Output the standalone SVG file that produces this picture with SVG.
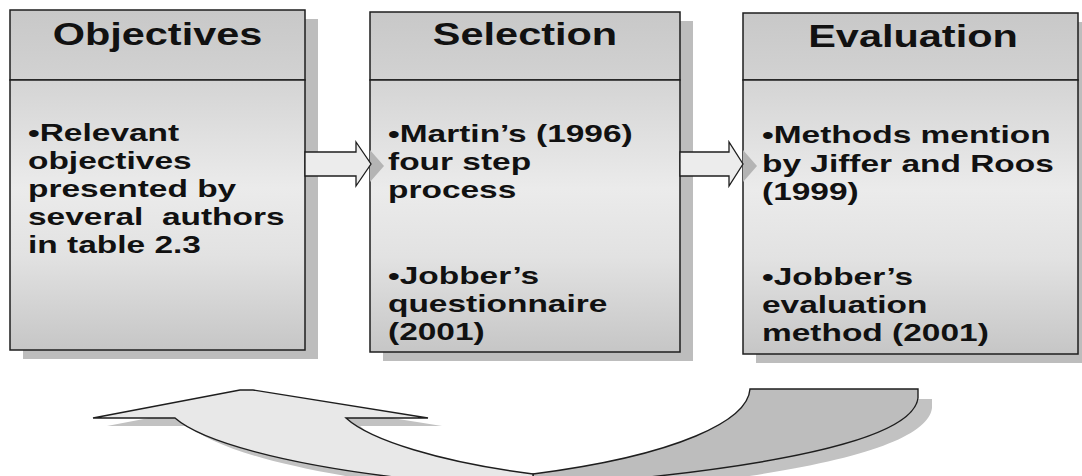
<svg xmlns="http://www.w3.org/2000/svg" width="1082" height="476" viewBox="0 0 1082 476">
<style>
.shadow{fill:#bdbdbd}
.hdr{fill:url(#hdrGrad);stroke:#1e1e1e;stroke-width:1.5}
.body{fill:url(#bodyGrad);stroke:#1e1e1e;stroke-width:1.5}
.ht{font-family:"Liberation Sans",Arial,sans-serif;font-weight:bold;font-size:30.5px;fill:#111;text-anchor:middle}
.bt{font-family:"Liberation Sans",Arial,sans-serif;font-weight:bold;font-size:23px;fill:#111}
.arrow{fill:#ececec;stroke:#1e1e1e;stroke-width:1.3;stroke-linejoin:miter}
.ashadow{fill:#b4b4b4}
.light{fill:#e8e8e8;stroke:#1e1e1e;stroke-width:1.4}
.dark{fill:#bdbdbd;stroke:#1e1e1e;stroke-width:1.4}
.cshadow{fill:#c2c2c2}
</style>
<defs>
<linearGradient id="hdrGrad" x1="0" y1="0" x2="0" y2="1">
<stop offset="0" stop-color="#c8c8c8"/>
<stop offset="1" stop-color="#d2d2d2"/>
</linearGradient>
<linearGradient id="bodyGrad" x1="0" y1="0" x2="0" y2="1">
<stop offset="0" stop-color="#d4d4d4"/>
<stop offset="0.4" stop-color="#ebebeb"/>
<stop offset="0.65" stop-color="#e2e2e2"/>
<stop offset="1" stop-color="#c6c6c6"/>
</linearGradient>
</defs>
<rect width="1082" height="476" fill="#ffffff"/>

<g id="cycle-arrow">
<path class="cshadow" transform="translate(14,10)" d="M 750 389 H 918 V 398 C 914 430 830 458 640 478 L 640 500 L 533 500 L 533 474 C 680 455 748 420 750 389 Z"/>
<path class="cshadow" transform="translate(14,8)" d="M 93 418 L 240 390 L 253 390 L 428 418 L 346 418 C 370 440 440 462 533 474 L 533 500 L 420 500 L 420 480 C 280 465 200 440 175 418 Z"/>
<path class="dark" d="M 750 389 H 918 V 398 C 914 430 830 458 640 478 L 640 500 L 533 500 L 533 474 C 680 455 748 420 750 389 Z"/>
<path class="light" d="M 93 418 L 240 390 L 253 390 L 428 418 L 346 418 C 370 440 440 462 533 474 L 533 500 L 420 500 L 420 480 C 280 465 200 440 175 418 Z"/>
</g>

<g id="node-objectives">
<rect class="shadow" x="23" y="19" width="295" height="340"/>
<rect class="hdr" x="10" y="10" width="295" height="70"/>
<rect class="body" x="10" y="80" width="295" height="270"/>
<text class="ht" transform="translate(157.5,45) scale(1.36,1)">Objectives</text>
<g transform="translate(28,0) scale(1.455,1)">
<text class="bt" x="0" y="141">•Relevant</text>
<text class="bt" x="0" y="169">objectives</text>
<text class="bt" x="0" y="197">presented by</text>
<text class="bt" x="0" y="225" style="white-space:pre">several  authors</text>
<text class="bt" x="0" y="253">in table 2.3</text>
</g>
</g>

<g id="node-selection">
<rect class="shadow" x="383" y="21" width="310" height="340"/>
<rect class="hdr" x="370" y="12" width="310" height="68"/>
<rect class="body" x="370" y="80" width="310" height="272"/>
<text class="ht" transform="translate(525,45) scale(1.36,1)">Selection</text>
<g transform="translate(388,0) scale(1.455,1)">
<text class="bt" x="0" y="142">•Martin’s (1996)</text>
<text class="bt" x="0" y="170">four step</text>
<text class="bt" x="0" y="198">process</text>
<text class="bt" x="0" y="284">•Jobber’s</text>
<text class="bt" x="0" y="312">questionnaire</text>
<text class="bt" x="0" y="340">(2001)</text>
</g>
</g>

<g id="node-evaluation">
<rect class="shadow" x="756" y="22" width="335" height="341"/>
<rect class="hdr" x="743" y="13" width="335" height="67"/>
<rect class="body" x="743" y="80" width="335" height="274"/>
<text class="ht" transform="translate(913,47) scale(1.36,1)">Evaluation</text>
<g transform="translate(762,0) scale(1.455,1)">
<text class="bt" x="0" y="143">•Methods mention</text>
<text class="bt" x="0" y="172">by Jiffer and Roos</text>
<text class="bt" x="0" y="200">(1999)</text>
<text class="bt" x="0" y="285">•Jobber’s</text>
<text class="bt" x="0" y="313">evaluation</text>
<text class="bt" x="0" y="341">method (2001)</text>
</g>
</g>

<g id="connectors">
<polygon class="ashadow" points="370,150 384,166 370,182"/>
<polygon class="ashadow" points="743,150 757,166 743,182"/>
<polygon class="arrow" points="305,152 356,152 356,142 371,164 356,186 356,176 305,176"/>
<polygon class="arrow" points="680,152 729,152 729,142 743,164 729,186 729,176 680,176"/>
</g>
</svg>
